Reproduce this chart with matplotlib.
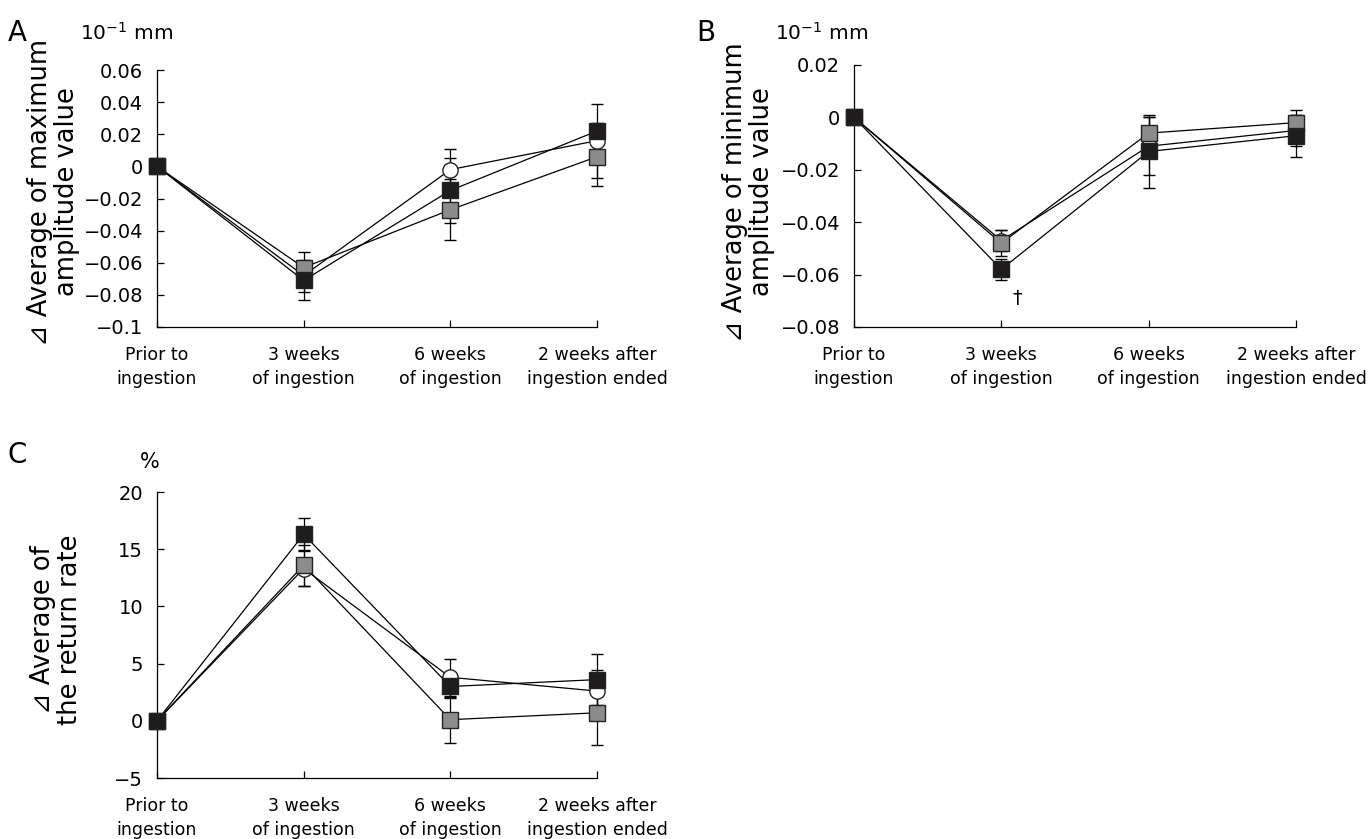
import matplotlib
matplotlib.use('Agg')
import matplotlib.pyplot as plt
from matplotlib.ticker import FuncFormatter

plt.rcParams['font.family'] = ['DejaVu Sans']

# time points
stages = ['Prior to\ningestion', '3 weeks\nof ingestion', '6 weeks\nof ingestion', '2 weeks after\ningestion ended']
xpos = [0, 1, 2, 3]

# panel A: change in maximum amplitude value (10^-1 mm)
a_circle = [0, -0.068, -0.002, 0.016]
a_circle_err = [0, 0.010, 0.013, 0.023]
a_gray = [0, -0.063, -0.027, 0.006]
a_gray_err = [0, 0.010, 0.019, 0.018]
a_black = [0, -0.071, -0.015, 0.022]
a_black_err = [0, 0.012, 0.020, 0.005]
a_ticks = [0.06, 0.04, 0.02, 0, -0.02, -0.04, -0.06, -0.08, -0.1]

# panel B: change in minimum amplitude value (10^-1 mm)
b_circle = [0, -0.047, -0.011, -0.005]
b_circle_err = [0, 0.004, 0.011, 0.006]
b_gray = [0, -0.048, -0.006, -0.002]
b_gray_err = [0, 0.005, 0.006, 0.005]
b_black = [0, -0.058, -0.013, -0.007]
b_black_err = [0, 0.004, 0.014, 0.008]
b_ticks = [0.02, 0, -0.02, -0.04, -0.06, -0.08]

# panel C: change in return rate (%)
c_circle = [0, 13.3, 3.8, 2.6]
c_circle_err = [0, 1.5, 1.6, 1.8]
c_gray = [0, 13.6, 0.1, 0.7]
c_gray_err = [0, 1.8, 2.0, 2.8]
c_black = [0, 16.3, 3.0, 3.6]
c_black_err = [0, 1.4, 1.0, 2.2]
c_ticks = [20, 15, 10, 5, 0, -5]

W, H = 1371, 839
fig = plt.figure(figsize=(W / 100, H / 100), dpi=100)


def px_axes(x0, x1, ytop, ybot):
    # axes box from pixel coords of the reference
    return fig.add_axes([x0 / W, (H - ybot) / H, (x1 - x0) / W, (ybot - ytop) / H])


def fmt(v, pos):
    s = ('%g' % round(v, 4))
    return s.replace('-', '\u2212')


def draw_panel(ax, series, ticks):
    # circle first, black squares last (on top)
    for vals, err, marker, face in series:
        ax.errorbar(xpos, vals, yerr=err, color='black', lw=0.9, elinewidth=0.9,
                    capsize=4, capthick=0.9, marker=marker, markersize=11,
                    markerfacecolor=face, markeredgecolor='#222222', markeredgewidth=1.0,
                    clip_on=False, zorder=3)
    ax.set_xlim(0, 3)
    ax.set_ylim(min(ticks), max(ticks))
    ax.set_yticks(ticks)
    ax.yaxis.set_major_formatter(FuncFormatter(fmt))
    ax.set_xticks(xpos)
    ax.set_xticklabels(stages, fontsize=12.5, linespacing=1.4)
    ax.spines['top'].set_visible(False)
    ax.spines['right'].set_visible(False)
    for s in ['left', 'bottom']:
        ax.spines[s].set_linewidth(0.9)
    ax.tick_params(axis='y', direction='in', length=5, width=0.9, labelsize=14, pad=10)
    ax.tick_params(axis='x', direction='in', length=5, width=0.9, pad=14)


axA = px_axes(157, 597, 70, 327)
draw_panel(axA, [(a_circle, a_circle_err, 'o', 'white'),
                 (a_gray, a_gray_err, 's', '#8c8c8c'),
                 (a_black, a_black_err, 's', '#1f1c1d')], a_ticks)

axB = px_axes(854, 1296, 65, 327)
draw_panel(axB, [(b_circle, b_circle_err, 'o', 'white'),
                 (b_gray, b_gray_err, 's', '#8c8c8c'),
                 (b_black, b_black_err, 's', '#1f1c1d')], b_ticks)
axB.text(1.11, -0.069, '\u2020', fontsize=14, ha='center', va='center')

axC = px_axes(157, 597, 492, 778)
draw_panel(axC, [(c_circle, c_circle_err, 'o', 'white'),
                 (c_gray, c_gray_err, 's', '#8c8c8c'),
                 (c_black, c_black_err, 's', '#1f1c1d')], c_ticks)

# panel letters, units and y labels
def ftext(x, y, s, **kw):
    fig.text(x / W, 1 - y / H, s, **kw)

ftext(17, 33, 'A', fontsize=20, ha='center', va='center')
ftext(80, 33, r'10$^{\mathregular{-1}}$ mm', fontsize=14.5, ha='left', va='center')
ftext(706, 33, 'B', fontsize=20, ha='center', va='center')
ftext(775, 33, r'10$^{\mathregular{-1}}$ mm', fontsize=14.5, ha='left', va='center')
ftext(17, 455, 'C', fontsize=20, ha='center', va='center')
ftext(150, 462, '%', fontsize=15, ha='center', va='center')

ftext(54, 192, '\u22bf Average of maximum\namplitude value', fontsize=18.5, rotation=90,
      ha='center', va='center', multialignment='center', linespacing=1.05)
ftext(748, 192, '\u22bf Average of minimum\namplitude value', fontsize=18.5, rotation=90,
      ha='center', va='center', multialignment='center', linespacing=1.05)
ftext(57, 630, '\u22bf Average of\nthe return rate', fontsize=18.5, rotation=90,
      ha='center', va='center', multialignment='center', linespacing=1.05)

fig.savefig('out.png', dpi=100)
